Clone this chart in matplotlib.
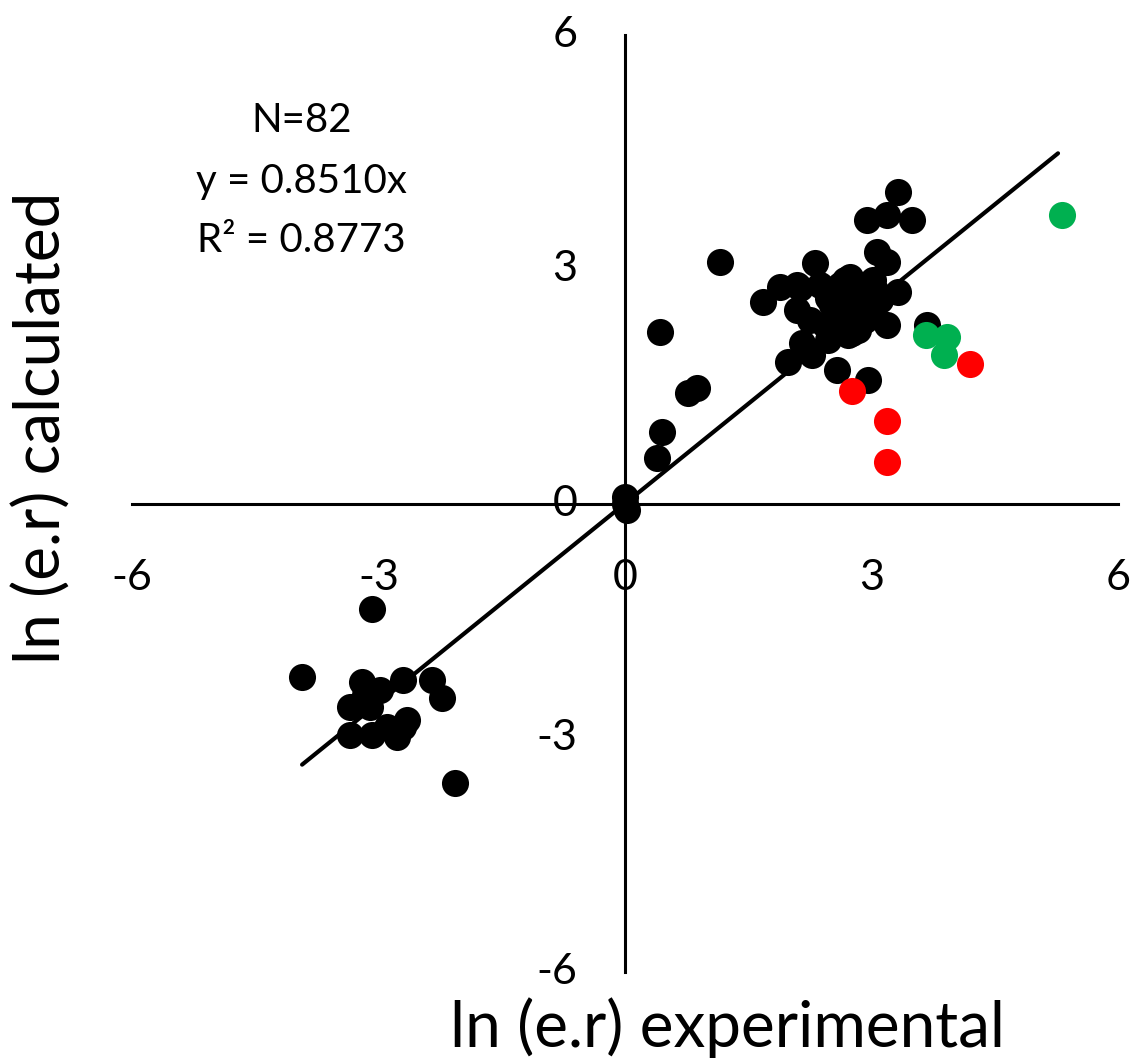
import numpy as np
import matplotlib
matplotlib.use("Agg")
import matplotlib.pyplot as plt

plt.rcParams['font.family'] = ['Lato', 'DejaVu Sans']

# ln(e.r) experimental / calculated
black_x = [-3.08, -3.93, -3.20, -2.98, -2.70, -2.35, -2.23, -3.35, -3.10, -3.35,
           -3.08, -2.77, -2.70, -2.65, -2.90, -2.07, -3.16,
           0.00, 0.02, 0.00, 0.39, 0.45, 0.43, 0.77, 0.88, 1.16,
           3.32, 2.94, 3.19, 3.49, 3.07, 3.19, 2.31, 3.32, 1.89, 1.68,
           2.09, 2.09, 3.19, 3.67, 2.76, 2.15, 1.98, 2.28, 2.58, 2.96,
           2.74, 3.02, 2.13,
           2.49, 2.68, 2.86, 2.98, 2.80, 2.56, 2.47, 2.43, 2.68, 2.92,
           3.10, 2.62, 2.71, 2.25, 2.56, 2.74, 2.88, 3.04, 2.59, 2.47,
           2.37, 2.84, 2.52, 2.68, 2.96]
black_y = [-1.35, -2.22, -2.29, -2.39, -2.26, -2.26, -2.49, -2.61, -2.61, -2.96,
           -2.96, -2.99, -2.86, -2.77, -2.86, -3.58, -2.45,
           0.08, -0.08, 0.00, 0.58, 0.92, 2.20, 1.41, 1.48, 3.09,
           3.99, 3.63, 3.69, 3.63, 3.22, 3.09, 3.08, 2.71, 2.77, 2.58,
           2.80, 2.48, 2.29, 2.29, 2.18, 2.06, 1.81, 1.90, 1.71, 1.58,
           2.90, 2.86, 2.76,
           2.73, 2.61, 2.67, 2.54, 2.41, 2.41, 2.63, 2.29, 2.29, 2.35,
           2.61, 2.80, 2.16, 2.35, 2.73, 2.48, 2.80, 2.73, 2.61, 2.09,
           2.80, 2.22, 2.54, 2.86, 2.45]
green_x = [5.32, 3.66, 3.92, 3.88]
green_y = [3.69, 2.16, 2.13, 1.90]
red_x = [4.20, 2.76, 3.19, 3.19]
red_y = [1.79, 1.44, 1.06, 0.53]

slope = 0.8510
fit_x = [-3.93, 5.27]
ticks = [-6, -3, 0, 3, 6]
stats = ['N=82', 'y = 0.8510x', 'R² = 0.8773']

W, H = 1137, 1059
fig = plt.figure(figsize=(W / 100, H / 100), dpi=100)
# place the data box so that -6..6 maps onto the drawn axis lines
ax = fig.add_axes([132 / W, (H - 972) / H, (1118 - 132) / W, (972 - 35) / H])
ax.set_xlim(-6, 6)
ax.set_ylim(-6, 6)
ax.axis('off')

# cross-shaped axes through the origin
ax.plot([-6, 6], [0, 0], color='black', lw=2.2, zorder=1, clip_on=False)
ax.plot([0, 0], [-6, 6], color='black', lw=2.2, zorder=1, clip_on=False)

# trend line
fx = np.array(fit_x)
ax.plot(fx, slope * fx, color='black', lw=3.0, solid_capstyle='round', zorder=2)

ms = 19.5
ax.plot(black_x, black_y, 'o', color='black', ms=ms, mew=0, zorder=3, clip_on=False)
ax.plot(green_x, green_y, 'o', color='#00B050', ms=ms, mew=0, zorder=4, clip_on=False)
ax.plot(red_x, red_y, 'o', color='#FF0000', ms=ms, mew=0, zorder=5, clip_on=False)

# tick labels
for t in ticks:
    ax.text(t, -0.95, str(t), ha='center', va='center', fontsize=31)
    ax.text(-0.58, t, str(t), ha='right', va='center', fontsize=31)

# annotation
for s, yy in zip(stats, [4.90, 4.13, 3.37]):
    ax.text(-3.94, yy, s, ha='center', va='center', fontsize=29)

# axis titles
fig.text(728 / W, 1 - 1028 / H, 'ln (e.r) experimental', ha='center', va='center', fontsize=46)
fig.text(42 / W, 1 - 428 / H, 'ln (e.r) calculated', ha='center', va='center',
         rotation=90, fontsize=46)

fig.savefig('out.png', dpi=100)
